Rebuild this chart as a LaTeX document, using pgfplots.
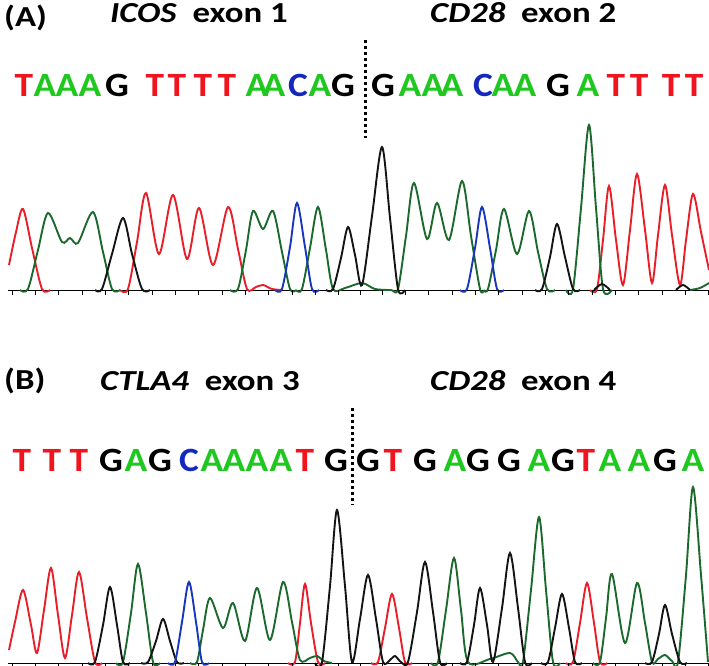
\documentclass[border=0pt]{standalone}
\usepackage{fontspec}
\setmainfont{Carlito}[FakeStretch=1.1]
\newfontfamily\ttlfont{Carlito}[FakeStretch=1.2]
\usepackage{pgfplots}
\pgfplotsset{compat=1.18}

\definecolor{trR}{RGB}{232,30,40}
\definecolor{trG}{RGB}{28,105,45}
\definecolor{trB}{RGB}{25,55,190}
\definecolor{trK}{RGB}{20,20,20}
\definecolor{ltR}{RGB}{240,20,30}
\definecolor{ltG}{RGB}{30,200,30}
\definecolor{ltB}{RGB}{20,40,190}

\pgfplotsset{trace/.style={smooth, line width=1.9pt, no marks}}

% base letters: x centre, baseline y, letter, colour
\newcommand\bl[4]{\node[text=#4, anchor=base, inner sep=0pt,
  font=\fontsize{34}{36}\selectfont\bfseries] at (axis cs:#1,#2) {#3};}
\newcommand\ttl{\ttlfont\fontsize{29}{31}\selectfont\bfseries}

\begin{document}
\begin{tikzpicture}
\begin{axis}[
  width=709pt, height=666pt, scale only axis,
  xmin=0, xmax=709, ymin=0, ymax=666, y dir=reverse,
  hide axis, clip=false,
]
\coordinate (bb1) at (axis cs:0,666);
\coordinate (bb2) at (axis cs:709,0);
% ---------- panel A ----------
\addplot[black, line width=1pt] coordinates {(8,290) (709,290)};
\addplot[only marks, mark=|, mark size=2.5pt, black, mark options={line width=0.8pt}] coordinates {
 (12,292.5) (35,292.5) (58,292.5) (82,292.5) (105,292.5) (128,292.5) (152,292.5)
 (175,292.5) (198,292.5) (222,292.5) (245,292.5) (268,292.5) (292,292.5) (315,292.5)
 (338,292.5) (360,292.5) (382,292.5) (405,292.5) (428,292.5) (452,292.5) (475,292.5)
 (498,292.5) (522,292.5) (545,292.5) (568,292.5) (592,292.5) (615,292.5) (638,292.5)
 (662,292.5) (685,292.5) (708,292.5)};

% red (T)
\addplot[trace, trR] coordinates {(9,265) (16,232) (23,209) (32,248) (42,289) (50,290)};
\addplot[trace, trR] coordinates {(120,290) (128,289) (137,242) (146,193) (159,254) (173,195)
 (187,259) (199,208) (213,265) (228,207) (238,249) (247,289) (256,287) (263,285) (272,289) (282,290)};
\addplot[trace, trR] coordinates {(590,290) (597,289) (603,240) (609,186) (616,240) (623,285)
 (630,230) (637,174) (645,230) (652,283) (658,235) (665,185) (672,235) (680,285)
 (686,240) (693,194) (701,232) (709,270)};
% green (A)
\addplot[trace, trG] coordinates {(20,290) (28,289) (38,250) (48,213) (62,242) (70,238) (78,243)
 (93,212) (103,252) (112,289) (120,290)};
\addplot[trace, trG] coordinates {(230,290) (238,289) (246,250) (253,211) (263,229) (273,211)
 (282,252) (290,289) (296,290)};
\addplot[trace, trG] coordinates {(296,290) (302,289) (310,248) (318,207) (326,250) (333,289)
 (345,288) (362,283) (375,289) (391,290) (398,289) (406,236) (414,183) (427,239)
 (437,203) (449,240) (462,181) (471,236) (480,289) (484,290)};
\addplot[trace, trG] coordinates {(484,290) (488,289) (496,250) (504,209) (517,254) (529,211)
 (538,252) (547,289) (555,290)};
\addplot[trace, trG] coordinates {(566,290) (573,289) (581,208) (589,125) (596,208) (603,289) (612,290)};
\addplot[trace, trG] coordinates {(690,290) (700,288) (709,283)};
% black (G)
\addplot[trace, trK] coordinates {(95,290) (102,289) (112,254) (123,218) (132,254) (142,289) (150,290)};
\addplot[trace, trK] coordinates {(326,290) (333,289) (341,258) (348,227) (355,255) (362,285)
 (372,216) (382,147) (390,218) (398,289) (405,290)};
\addplot[trace, trK] coordinates {(535,290) (542,289) (550,257) (557,224) (565,257) (573,289) (580,290)};
\addplot[trace, trK] coordinates {(594,290) (602,284) (610,290)};
\addplot[trace, trK] coordinates {(676,290) (683,285) (690,290)};
% blue (C)
\addplot[trace, trB] coordinates {(275,290) (282,289) (290,247) (297,203) (305,247) (312,289) (319,290)};
\addplot[trace, trB] coordinates {(460,290) (467,289) (475,248) (482,207) (490,248) (497,289) (504,290)};

% junction line A
\addplot[black, line width=3pt, dash pattern=on 3pt off 3pt] coordinates {(365,40) (365,138)};

% ---------- panel B ----------
\addplot[black, line width=1pt] coordinates {(8,663) (709,663)};
\addplot[only marks, mark=|, mark size=2pt, black, mark options={line width=0.8pt}] coordinates {
 (12,665) (35,665) (58,665) (82,665) (105,665) (128,665) (152,665)
 (175,665) (198,665) (222,665) (245,665) (268,665) (292,665) (315,665)
 (338,665) (360,665) (382,665) (405,665) (428,665) (452,665) (475,665)
 (498,665) (522,665) (545,665) (568,665) (592,665) (615,665) (638,665)
 (662,665) (685,665) (708,665)};
% red (T)
\addplot[trace, trR] coordinates {(9,650) (15,622) (23,590) (31,625) (37,653) (44,610) (51,568)
 (58,615) (65,658) (72,615) (79,572) (87,618) (95,662) (102,663)};
\addplot[trace, trR] coordinates {(288,663) (295,662) (300,623) (305,584) (311,623) (318,662) (325,663)};
\addplot[trace, trR] coordinates {(371,663) (378,662) (385,628) (392,594) (399,628) (405,662) (412,663)};
\addplot[trace, trR] coordinates {(566,663) (573,662) (580,623) (587,583) (594,623) (600,662) (607,663)};
% green (A)
\addplot[trace, trG] coordinates {(116,663) (123,662) (131,613) (138,564) (146,613) (153,662) (160,663)};
\addplot[trace, trG] coordinates {(190,663) (197,662) (203,630) (210,598) (223,628) (233,603)
 (245,641) (257,588) (270,640) (283,582) (292,622) (300,660) (310,658) (317,656) (324,661) (332,663)};
\addplot[trace, trG] coordinates {(431,663) (438,662) (446,610) (454,558) (461,610) (468,662)
 (490,659) (510,653) (518,662) (523,662) (531,590) (539,517) (546,590) (553,662) (560,663)};
\addplot[trace, trG] coordinates {(593,663) (600,662) (606,618) (612,574) (625,643) (637,583)
 (645,623) (652,662) (658,659) (665,655) (672,661) (678,662) (686,575) (693,487)
 (701,575) (708,662)};
% black (G)
\addplot[trace, trK] coordinates {(88,663) (95,662) (103,625) (110,587) (117,625) (123,662) (130,663)};
\addplot[trace, trK] coordinates {(141,663) (148,662) (156,641) (163,619) (170,641) (177,662) (184,663)};
\addplot[trace, trK] coordinates {(315,663) (322,662) (330,586) (337,510) (345,586) (352,662)
 (360,619) (368,575) (376,619) (383,662) (390,660) (395,656) (401,662) (408,662)
 (417,612) (425,562) (433,612) (440,662) (447,663)};
\addplot[trace, trK] coordinates {(460,663) (467,662) (474,625) (480,588) (487,625) (493,662)
 (502,608) (510,553) (518,608) (525,662) (532,663)};
\addplot[trace, trK] coordinates {(541,663) (548,662) (555,628) (562,594) (569,628) (575,662) (582,663)};
\addplot[trace, trK] coordinates {(645,663) (652,662) (659,634) (665,605) (672,634) (680,662) (687,663)};
% blue (C)
\addplot[trace, trB] coordinates {(168,663) (175,662) (182,622) (189,582) (196,622) (202,662) (209,663)};

% junction line B
\addplot[black, line width=3pt, dash pattern=on 3pt off 3pt] coordinates {(352,408) (352,505)};

% ---------- titles ----------
\node[anchor=base west, inner sep=0pt, font=\ttl] at (axis cs:4,27) {(A)};
\node[anchor=base west, inner sep=0pt, font=\ttl] at (axis cs:110,23) {\textit{ICOS}\ \ exon 1};
\node[anchor=base west, inner sep=0pt, font=\ttl] at (axis cs:430,23) {\textit{CD28}\ \ exon 2};
\node[anchor=base west, inner sep=0pt, font=\ttl] at (axis cs:4,389) {(B)};
\node[anchor=base west, inner sep=0pt, font=\ttl] at (axis cs:100,390) {\textit{CTLA4}\ \ exon 3};
\node[anchor=base west, inner sep=0pt, font=\ttl] at (axis cs:430,390) {\textit{CD28}\ \ exon 4};

% ---------- sequence A ----------
\bl{24}{97}{T}{ltR} \bl{45}{97}{A}{ltG} \bl{67}{97}{A}{ltG} \bl{90}{97}{A}{ltG}
\bl{117}{97}{G}{black} \bl{155}{97}{T}{ltR} \bl{177}{97}{T}{ltR} \bl{203}{97}{T}{ltR}
\bl{227}{97}{T}{ltR} \bl{257}{97}{A}{ltG} \bl{274}{97}{A}{ltG} \bl{298}{97}{C}{ltB}
\bl{320}{97}{A}{ltG} \bl{343}{97}{G}{black}
\bl{383}{97}{G}{black} \bl{410}{97}{A}{ltG} \bl{433}{97}{A}{ltG} \bl{452}{97}{A}{ltG}
\bl{483}{97}{C}{ltB} \bl{503}{97}{A}{ltG} \bl{525}{97}{A}{ltG} \bl{558}{97}{G}{black}
\bl{588}{97}{A}{ltG} \bl{616}{97}{T}{ltR} \bl{639}{97}{T}{ltR} \bl{671}{97}{T}{ltR}
\bl{694}{97}{T}{ltR}

% ---------- sequence B ----------
\bl{22}{471}{T}{ltR} \bl{52}{471}{T}{ltR} \bl{79}{471}{T}{ltR} \bl{111}{471}{G}{black}
\bl{136}{471}{A}{ltG} \bl{160}{471}{G}{black} \bl{189}{471}{C}{ltB} \bl{212}{471}{A}{ltG}
\bl{234}{471}{A}{ltG} \bl{257}{471}{A}{ltG} \bl{281}{471}{A}{ltG} \bl{305}{471}{T}{ltR}
\bl{336}{471}{G}{black}
\bl{368}{471}{G}{black} \bl{393}{471}{T}{ltR} \bl{425}{471}{G}{black} \bl{455}{471}{A}{ltG}
\bl{478}{471}{G}{black} \bl{509}{471}{G}{black} \bl{539}{471}{A}{ltG} \bl{563}{471}{G}{black}
\bl{586}{471}{T}{ltR} \bl{610}{471}{A}{ltG} \bl{639}{471}{A}{ltG} \bl{665}{471}{G}{black}
\bl{693}{471}{A}{ltG}
\end{axis}
\pgfresetboundingbox
\path[use as bounding box] (bb1) rectangle (bb2);
\end{tikzpicture}
\end{document}
